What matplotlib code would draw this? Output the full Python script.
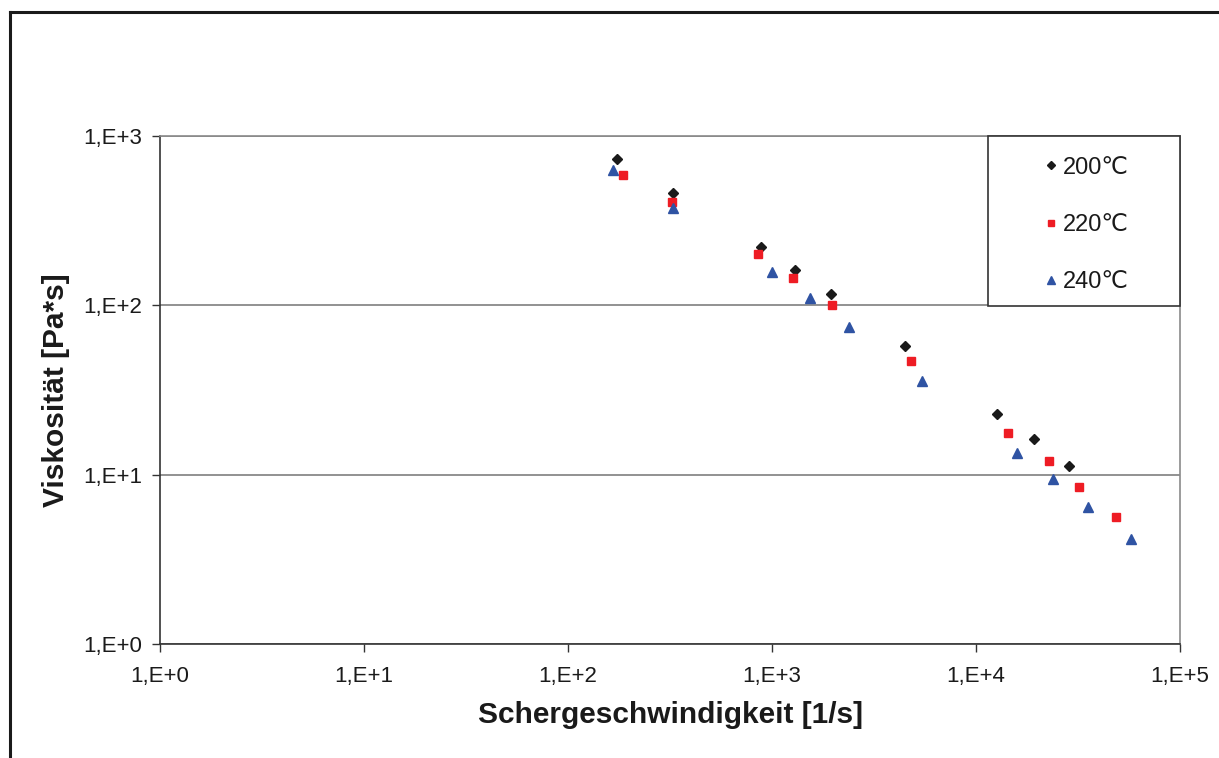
import matplotlib
matplotlib.use("Agg")
import matplotlib.pyplot as plt
from matplotlib.lines import Line2D
from matplotlib.patches import Rectangle
from matplotlib.ticker import FixedLocator, FixedFormatter, NullLocator

# Data (shear rate [1/s], viscosity [Pa*s])
x_200 = [173, 328, 881, 1292, 1946, 4487, 12680, 19170, 28570]
y_200 = [729, 459, 222, 162, 116, 57.8, 22.9, 16.3, 11.25]

x_220 = [187, 322, 851, 1273, 1976, 4786, 14350, 22710, 31990, 48730]
y_220 = [587, 408, 202, 144.5, 100, 47, 17.6, 12.05, 8.5, 5.63]

x_240 = [167, 328, 1004, 1530, 2384, 5436, 15830, 23850, 35540, 57340]
y_240 = [631, 376, 157, 110, 74.8, 35.6, 13.5, 9.39, 6.45, 4.15]

series_labels = ["200\u2103", "220\u2103", "240\u2103"]
x_ticks = [1, 10, 100, 1000, 10000, 100000]
x_tick_labels = ["1,E+0", "1,E+1", "1,E+2", "1,E+3", "1,E+4", "1,E+5"]
y_ticks = [1, 10, 100, 1000]
y_tick_labels = ["1,E+0", "1,E+1", "1,E+2", "1,E+3"]

plt.rcParams['font.family'] = ['Liberation Sans', 'DejaVu Sans']

W, H = 1219, 758
fig = plt.figure(figsize=(W / 100, H / 100), dpi=100)
ax = fig.add_axes([160 / W, 1 - 644 / H, 1020 / W, 508 / H])

c_black = "#1a1a1a"
c_red = "#ee1c24"
c_blue = "#2f53a3"

ax.plot(x_200, y_200, linestyle='none', marker='D', ms=5, color=c_black, label=series_labels[0])
ax.plot(x_220, y_220, linestyle='none', marker='s', ms=6, color=c_red, label=series_labels[1])
ax.plot(x_240, y_240, linestyle='none', marker='^', ms=7, color=c_blue, label=series_labels[2])

ax.set_xscale('log')
ax.set_yscale('log')
ax.set_xlim(1, 1e5)
ax.set_ylim(1, 1e3)

ax.xaxis.set_major_locator(FixedLocator(x_ticks))
ax.xaxis.set_major_formatter(FixedFormatter(x_tick_labels))
ax.xaxis.set_minor_locator(NullLocator())
ax.yaxis.set_major_locator(FixedLocator(y_ticks))
ax.yaxis.set_major_formatter(FixedFormatter(y_tick_labels))
ax.yaxis.set_minor_locator(NullLocator())

ax.grid(True, axis='y', color='#7f7f7f', linewidth=1.2)
ax.set_axisbelow(True)

for s in ['left', 'bottom']:
    ax.spines[s].set_color('#333333')
    ax.spines[s].set_linewidth(1.2)
for s in ['right', 'top']:
    ax.spines[s].set_color('#8a8a8a')
    ax.spines[s].set_linewidth(1.2)

ax.tick_params(axis='both', direction='out', length=6, width=1, color='#333333',
               labelsize=16, labelcolor='#1a1a1a')
ax.tick_params(axis='x', pad=10)
ax.tick_params(axis='y', pad=7)

ax.set_xlabel("Schergeschwindigkeit [1/s]", fontsize=21.5, fontweight='bold', color='#1a1a1a', labelpad=10)
ax.set_ylabel("Viskosität [Pa*s]", fontsize=21.5, fontweight='bold', color='#1a1a1a', labelpad=9)

# legend box
lx0 = (988 - 160) / 1020
ly0 = (644 - 306) / 508
ax.add_patch(Rectangle((lx0, ly0), 1 - lx0, 1 - ly0, transform=ax.transAxes,
                       facecolor='white', edgecolor='#333333', linewidth=1.2, zorder=5,
                       clip_on=False))
leg = ax.legend(loc='center left', bbox_to_anchor=((1039 - 160) / 1020, (644 - 225) / 508),
                frameon=False, fontsize=17, borderpad=0, labelspacing=1.5, handlelength=1.0,
                handletextpad=0.0, borderaxespad=0, markerscale=0.75)
leg.set_zorder(6)
for t in leg.get_texts():
    t.set_color('#1a1a1a')

# outer frame lines (left and top)
fig.add_artist(Line2D([10 / W, 10 / W], [0, 1 - 12 / H], transform=fig.transFigure,
                      color='#1a1a1a', linewidth=2.2))
fig.add_artist(Line2D([10 / W, 1], [1 - 12 / H, 1 - 12 / H], transform=fig.transFigure,
                      color='#1a1a1a', linewidth=2.2))

fig.savefig("out.png", dpi=100)
